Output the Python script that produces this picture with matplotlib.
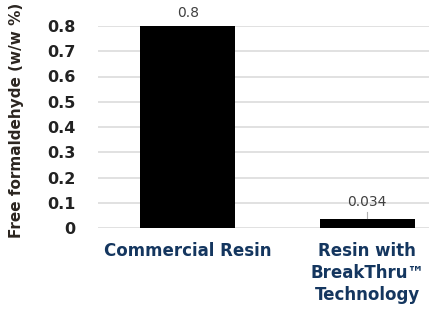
import numpy as np
import matplotlib.pyplot as plt

categories = ['Commercial Resin', 'Resin with\nBreakThru\u2122\nTechnology']
values = [0.8, 0.034]
value_labels = ['0.8', '0.034']
yticks = [0, 0.1, 0.2, 0.3, 0.4, 0.5, 0.6, 0.7, 0.8]
ytick_labels = ['0', '0.1', '0.2', '0.3', '0.4', '0.5', '0.6', '0.7', '0.8']

fig = plt.figure(figsize=(4.29, 3.09), dpi=100)
ax = fig.add_axes([98/429, 1-228/309, 359/429, 202/309])

x = np.arange(len(categories))
ax.bar(x, values, width=0.53, color='black', zorder=3)
ax.set_xlim(-0.5, 1.5)
ax.set_ylim(0, 0.8)

ax.set_yticks(yticks)
ax.set_yticklabels(ytick_labels, fontsize=11.5, fontweight='bold', color='#222222')
ax.grid(axis='y', color='#dcdcdc', linewidth=1.2, zorder=0)
ax.tick_params(axis='y', length=0, pad=16)
ax.tick_params(axis='x', length=0, pad=10)
for s in ax.spines.values():
    s.set_visible(False)

ax.set_xticks(x)
ax.set_xticklabels(categories, fontsize=12, fontweight='bold', color='#14365f',
                   linespacing=1.3, va='top')

ax.set_ylabel('Free formaldehyde (w/w %)', fontsize=11, fontweight='bold', color='#2b2520')
ax.yaxis.set_label_coords(-0.206, 0.535)

# value labels
ax.text(x[0], values[0] + 0.025, value_labels[0], ha='center', va='bottom',
        fontsize=10, color='#404040', clip_on=False)
ax.plot([x[1], x[1]], [values[1] + 0.005, values[1] + 0.03], color='#b0b0b0', lw=0.8, zorder=4)
ax.text(x[1], values[1] + 0.04, value_labels[1], ha='center', va='bottom',
        fontsize=10, color='#404040')

fig.savefig('out.png', dpi=100)
